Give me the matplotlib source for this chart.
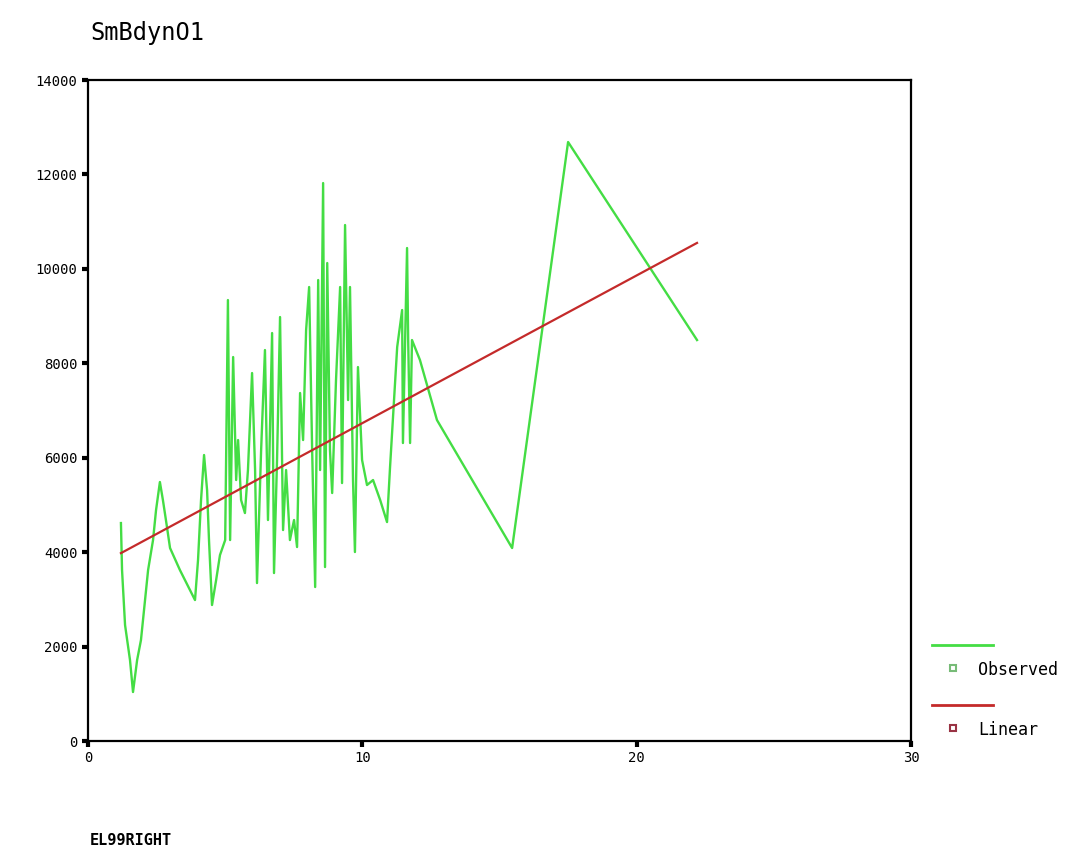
import matplotlib
matplotlib.use('Agg')
import matplotlib.pyplot as plt
from matplotlib.lines import Line2D

obs_x = [1.20, 1.24, 1.35, 1.53, 1.64, 1.79, 1.93, 2.19, 2.37, 2.48, 2.62, 2.73, 2.84, 2.99,
         3.35, 3.90, 4.01, 4.12, 4.23, 4.34, 4.41, 4.52, 4.67, 4.81, 5.00, 5.10, 5.18, 5.29,
         5.40, 5.47, 5.58, 5.72, 5.83, 5.98, 6.09, 6.16, 6.31, 6.45, 6.56, 6.71, 6.78, 6.89,
         7.00, 7.11, 7.22, 7.36, 7.51, 7.62, 7.73, 7.84, 7.95, 8.06, 8.17, 8.28, 8.39, 8.46,
         8.57, 8.64, 8.72, 8.82, 8.90, 9.04, 9.19, 9.26, 9.37, 9.48, 9.55, 9.66, 9.73, 9.84,
         9.99, 10.17, 10.39, 10.65, 10.90, 11.01, 11.27, 11.45, 11.48, 11.63, 11.67, 11.74,
         11.81, 12.10, 12.72, 15.46, 17.50, 22.20]
obs_y = [4617, 3622, 2457, 1716, 1038, 1716, 2139, 3622, 4257, 4893, 5486, 5104, 4681, 4088,
         3622, 2986, 3834, 5104, 6058, 5316, 4257, 2881, 3410, 3939, 4257, 9340, 4257, 8133,
         5528, 6375, 5104, 4829, 5740, 7794, 5740, 3346, 6163, 8281, 4681, 8641, 3558, 5952,
         8980, 4469, 5740, 4257, 4681, 4109, 7371, 6375, 8705, 9616, 6163, 3262, 9764, 5740,
         11818, 3685, 10124, 6163, 5253, 7646, 9616, 5464, 10929, 7222, 9616, 5528, 4003, 7921,
         5952, 5422, 5528, 5104, 4638, 5803, 8345, 9129, 6312, 10442, 8493, 6312,
         8493, 8070, 6799, 4088, 12687, 8493]

# droite lineaire (extremites)
fit_x = [1.2, 22.2]
fit_y = [3980, 10550]

titre = 'SmBdynO1'
xlabel = 'EL99RIGHT'
legende = ['Observed', 'Linear']

vert = '#44dd44'
rouge = '#c42a2a'

fig = plt.figure(figsize=(10.84, 8.56), dpi=100)
ax = fig.add_axes([0.0812, 0.1343, 0.7592, 0.7722])

ax.plot(obs_x, obs_y, color=vert, lw=1.7)
ax.plot(fit_x, fit_y, color=rouge, lw=1.6)

ax.set_xlim(0, 30)
ax.set_ylim(0, 14000)
ax.set_xticks([0, 10, 20, 30])
ax.set_yticks(range(0, 14001, 2000))
for s in ax.spines.values():
    s.set_linewidth(1.6)
ax.tick_params(direction='out', length=4, width=3, labelsize=10)
for lab in ax.get_xticklabels() + ax.get_yticklabels():
    lab.set_family('DejaVu Sans Mono')

fig.text(0.083, 0.962, titre, fontsize=17, family='DejaVu Sans Mono', va='center')
fig.text(0.083, 0.018, xlabel, fontsize=11, family='DejaVu Sans Mono',
         fontweight='bold', va='center')

# legende a droite
fig.add_artist(Line2D([0.860, 0.916], [1 - 645/856, 1 - 645/856], color=vert, lw=2,
                      transform=fig.transFigure))
fig.add_artist(Line2D([0.879], [1 - 668/856], marker='s', ms=4, mfc='none', mec='#77bb77',
                      mew=1.5, transform=fig.transFigure))
fig.text(0.902, 1 - 670/856, legende[0], fontsize=12, family='DejaVu Sans Mono', va='center')
fig.add_artist(Line2D([0.860, 0.916], [1 - 705/856, 1 - 705/856], color=rouge, lw=2,
                      transform=fig.transFigure))
fig.add_artist(Line2D([0.879], [1 - 728/856], marker='s', ms=4, mfc='none', mec='#993344',
                      mew=1.5, transform=fig.transFigure))
fig.text(0.902, 1 - 730/856, legende[1], fontsize=12, family='DejaVu Sans Mono', va='center')

fig.savefig('out.png', dpi=100)
